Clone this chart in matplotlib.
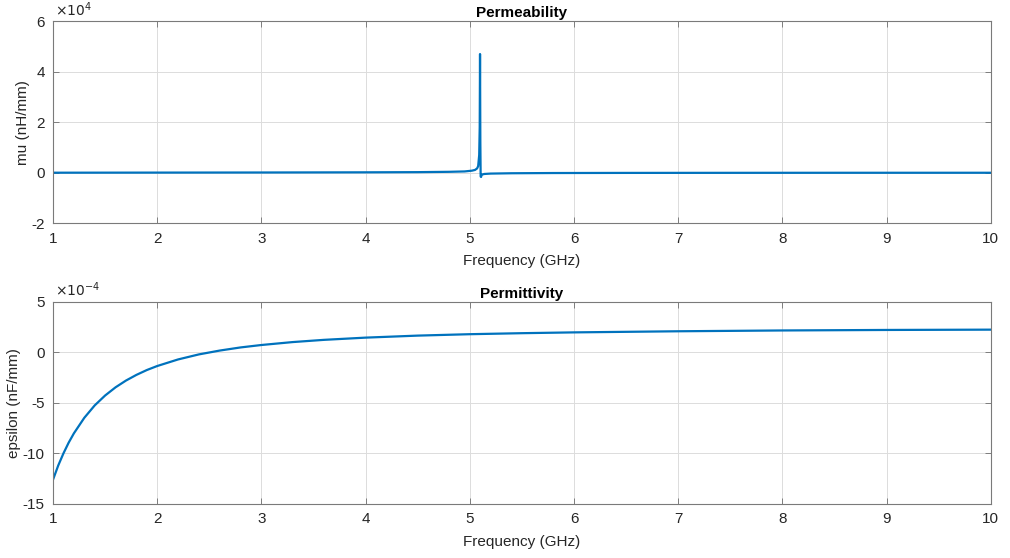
import numpy as np
import matplotlib
matplotlib.use("Agg")
from matplotlib import pyplot as plt
from matplotlib.ticker import FuncFormatter

# permeability samples (frequency in GHz, mu in nH/mm)
mu_freq = [1.0, 2.0, 3.0, 4.0, 4.5, 4.8, 4.95, 5.02, 5.05, 5.07, 5.08,
           5.09, 5.095, 5.098, 5.101, 5.104, 5.108, 5.112, 5.12, 5.14,
           5.2, 5.4, 5.8, 6.5, 7.5, 8.5, 10.0]
mu_vals = [0.0, 40.0, 80.0, 150.0, 220.0, 350.0, 500.0, 800.0, 1100.0, 1700.0, 2600.0,
           7000.0, 18000.0, 47000.0, 12000.0, -1500.0, -1700.0, -1000.0, -700.0, -500.0,
           -350.0, -220.0, -130.0, -80.0, -50.0, -30.0, -20.0]

# permittivity samples (frequency in GHz, epsilon in nF/mm)
eps_freq = [1.0, 1.05, 1.1, 1.15, 1.2, 1.3, 1.4, 1.5, 1.6, 1.7, 1.8, 1.9, 2.0,
            2.2, 2.4, 2.6, 2.8, 3.0, 3.3, 3.6, 4.0, 4.5, 5.0, 5.5, 6.0,
            7.0, 8.0, 9.0, 10.0]
eps_vals = [-12.6e-4, -11.2e-4, -10.0e-4, -8.94e-4, -8.02e-4, -6.48e-4, -5.25e-4,
            -4.27e-4, -3.46e-4, -2.79e-4, -2.23e-4, -1.75e-4, -1.35e-4,
            -0.70e-4, -0.20e-4, 0.18e-4, 0.49e-4, 0.73e-4, 1.02e-4, 1.24e-4,
            1.46e-4, 1.66e-4, 1.80e-4, 1.90e-4, 1.98e-4,
            2.09e-4, 2.17e-4, 2.22e-4, 2.25e-4]

p = plt.rcParams
p["font.family"] = ["Liberation Sans", "DejaVu Sans"]
p["axes.unicode_minus"] = False
p["font.size"] = 11

line_color = "#0072BD"
text_color = "#262626"
grid_color = "#dcdcdc"


def style_axes(ax, xlabel, ylabel, title, power):
    ax.set_xlim(1, 10)
    ax.set_xticks(range(1, 11))
    ax.grid(True, color=grid_color, linewidth=0.7)
    ax.set_axisbelow(True)
    for side in ["top", "right", "bottom", "left"]:
        ax.spines[side].set_color("#7a7a7a")
        ax.spines[side].set_linewidth(0.8)
    ax.tick_params(direction="in", length=4, width=0.6, colors="#6e6e6e",
                   labelcolor=text_color, labelsize=11, top=True, right=True,
                   pad=6)
    ax.set_xlabel(xlabel, color=text_color, fontsize=11, labelpad=6)
    ax.set_ylabel(ylabel, color=text_color, fontsize=11, labelpad=1)
    ax.set_title(title, fontweight="bold", fontsize=11, color="black", pad=3)
    scale = 10.0 ** power
    ax.yaxis.set_major_formatter(FuncFormatter(lambda v, pos: "%g" % round(v / scale, 6)))
    ax.text(0.002, 1.012, r"$\times10^{%d}$" % power, transform=ax.transAxes,
            fontsize=10, color=text_color, ha="left", va="bottom")


fig = plt.figure(figsize=(10.10, 5.58), dpi=100)
ax1 = fig.add_axes([0.0525, 0.600, 0.9285, 0.362])
ax2 = fig.add_axes([0.0525, 0.097, 0.9285, 0.362])

ax1.plot(mu_freq, mu_vals, color=line_color, linewidth=1.6)
ax1.set_ylim(-2e4, 6e4)
ax1.set_yticks([-2e4, 0, 2e4, 4e4, 6e4])
style_axes(ax1, "Frequency (GHz)", "mu (nH/mm)", "Permeability", 4)

ax2.plot(eps_freq, eps_vals, color=line_color, linewidth=1.6)
ax2.set_ylim(-15e-4, 5e-4)
ax2.set_yticks([-15e-4, -10e-4, -5e-4, 0, 5e-4])
style_axes(ax2, "Frequency (GHz)", "epsilon (nF/mm)", "Permittivity", -4)

plt.savefig("out.png", dpi=100)
plt.close()
